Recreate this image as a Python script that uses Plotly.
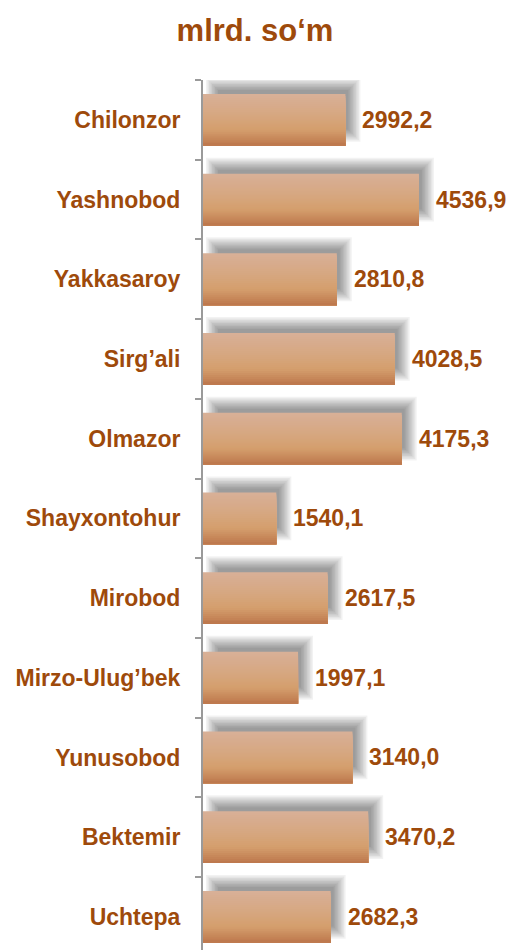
import plotly.graph_objects as go

districts = ["Chilonzor", "Yashnobod", "Yakkasaroy", "Sirg\u2019ali", "Olmazor",
             "Shayxontohur", "Mirobod", "Mirzo-Ulug\u2019bek", "Yunusobod",
             "Bektemir", "Uchtepa"]
values = [2992.2, 4536.9, 2810.8, 4028.5, 4175.3, 1540.1, 2617.5, 1997.1,
          3140.0, 3470.2, 2682.3]
labels = [f"{v:.1f}".replace(".", ",") for v in values]
title_text = "mlrd. so\u2018m"

W, H = 510, 950
ML, MR, MT, MB = 203, 69, 80, 0
XMAX = 5000
plot_w = W - ML - MR
plot_h = H - MT - MB
slot_px = 79.7
px_x = XMAX / plot_w          # data units per px (x)
px_y = 1.0 / slot_px          # category units per px (y)
BW = 0.65                     # bar width in category units
BROWN = "#9E4A0B"
FONT = "Liberation Sans, Arial, sans-serif"

fig = go.Figure()

# blurred shadow: several translucent layers, shifted up-right
sdx, sdy = 9, 10
layers = [-6, -4.5, -3, -1.5, 0, 1.5, 3, 4.5, 6]
for d in layers:
    fig.add_trace(go.Bar(
        y=districts, x=[v + 2 * d * px_x for v in values],
        base=(sdx - d) * px_x, orientation="h",
        offset=-BW / 2 - (sdy + d) * px_y, width=BW + 2 * d * px_y,
        marker=dict(color="rgba(0,0,0,0.05)", line=dict(width=0)),
        hoverinfo="skip", showlegend=False))

# gradient bars built from overlapping strips (each reaches the bar bottom)
stops = [(0.0, (216, 176, 152)), (0.45, (214, 166, 126)), (0.7, (212, 158, 108)),
         (1.0, (188, 118, 76))]
def grad(t):
    for (t0, c0), (t1, c1) in zip(stops[:-1], stops[1:]):
        if t <= t1:
            f = (t - t0) / (t1 - t0)
            return tuple(int(round(a + (b - a) * f)) for a, b in zip(c0, c1))
    return stops[-1][1]

N = 26
sw = BW / N
for i in range(N):
    c = grad((i + 0.5) / N)
    fig.add_trace(go.Bar(
        y=districts, x=values, orientation="h",
        offset=-BW / 2 + i * sw, width=BW - i * sw,
        marker=dict(color=f"rgb{c}", line=dict(width=0)),
        hoverinfo="skip", showlegend=False))

for d, v, t in zip(districts, values, labels):
    fig.add_annotation(x=v, y=d, text=t, xanchor="left", yanchor="middle",
                       xshift=15, showarrow=False,
                       font=dict(family=FONT, size=23, color=BROWN, weight="bold"))

fig.update_layout(
    width=W, height=H, barmode="overlay",
    margin=dict(l=ML, r=MR, t=MT, b=MB),
    paper_bgcolor="white", plot_bgcolor="white",
    title=dict(text=title_text, x=0.5, xref="container", xanchor="center",
               y=1 - 30 / H, yref="container", yanchor="middle",
               font=dict(family=FONT, size=31, color=BROWN, weight="bold")),
    xaxis=dict(range=[0, XMAX], visible=False, fixedrange=True),
    yaxis=dict(type="category", categoryorder="array", categoryarray=districts,
               range=[-0.5 + plot_h / slot_px, -0.5], fixedrange=True,
               showline=True, linecolor="#9a9a9a", linewidth=2,
               ticks="outside", ticklen=6, tickwidth=2, tickcolor="#9a9a9a",
               tickson="boundaries", showgrid=False, zeroline=False,
               ticklabelstandoff=16,
               tickfont=dict(family=FONT, size=23, color=BROWN, weight="bold")),
)

fig.write_html("out.html", config={"displayModeBar": False},
               post_script="document.body.style.margin='0';"
                           "document.body.style.overflow='hidden';")
